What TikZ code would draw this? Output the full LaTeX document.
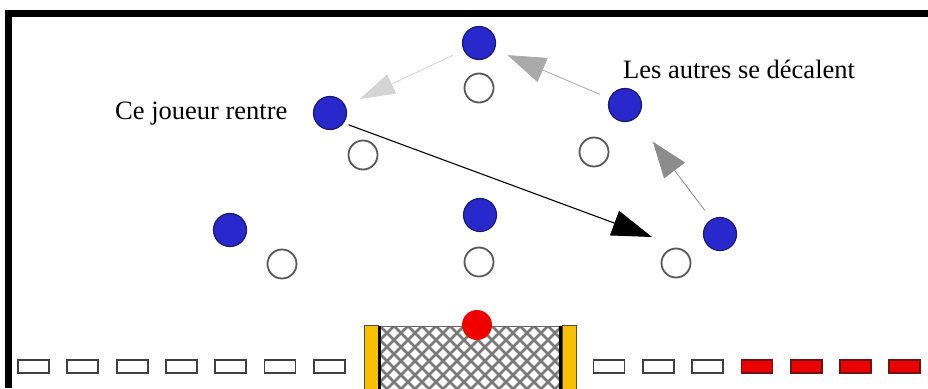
\documentclass[tikz,border=0pt]{standalone}
\usepackage{fontspec}
\setmainfont{Liberation Serif}
\usetikzlibrary{arrows.meta}
\definecolor{pblue}{RGB}{40,40,205}
\definecolor{pblueline}{RGB}{25,25,115}
\definecolor{postyellow}{RGB}{247,192,0}
\definecolor{ballred}{RGB}{240,0,0}
\definecolor{boxred}{RGB}{235,0,0}
\definecolor{boxredline}{RGB}{110,20,20}
\definecolor{grayA}{RGB}{212,212,212}
\definecolor{grayB}{RGB}{170,170,170}
\definecolor{grayC}{RGB}{140,140,140}
\begin{document}
\begin{tikzpicture}[x=1pt,y=-1pt,
  attacker/.style={circle,fill=pblue,draw=pblueline,line width=1.2pt,minimum size=33pt,inner sep=0pt},
  defender/.style={circle,fill=white,draw=black!65,line width=1.8pt,minimum size=29pt,inner sep=0pt},
  zonebox/.style={rectangle,fill=white,draw=black!75,line width=1.8pt,minimum width=31pt,minimum height=13pt,inner sep=0pt},
  redbox/.style={zonebox,fill=boxred,draw=boxredline},
  ballnode/.style={circle,fill=ballred,minimum size=30pt,inner sep=0pt},
  netline/.style={draw=black!52,line width=2.6pt},
  lbl/.style={font=\fontsize{26.5}{30}\selectfont,inner sep=0pt},
  moveA/.style={draw=grayA,line width=0.8pt,-{Triangle[length=35pt,width=21pt]}},
  moveB/.style={draw=grayB,line width=0.8pt,-{Triangle[length=38pt,width=26pt]}},
  moveC/.style={draw=grayC,line width=0.8pt,-{Triangle[length=36pt,width=26pt]}},
  entrymove/.style={draw=black,line width=1.1pt,-{Triangle[length=40pt,width=26pt]}}]
\useasboundingbox (0,0) rectangle (928,388);
\fill[white] (0,0) rectangle (928,388);
% frame
\fill[black] (5,10) rectangle (928,17);
\fill[black] (5,10) rectangle (12,388);
% net
\begin{scope}
  \clip (380,326) rectangle (560,390);
  \fill[white] (380,326) rectangle (560,390);
  \foreach \k in {-8,...,22} {
    \draw[netline] (380+\k*14,326) -- ++(80,80);
    \draw[netline] (380+\k*14,326) -- ++(-80,80);
  }
\end{scope}
\draw[black!60,line width=1pt] (376,326) -- (564,326);
\fill[postyellow,draw=black!70,line width=0.8pt] (364,325) rectangle (378,392);
\fill[postyellow,draw=black!70,line width=0.8pt] (562,325) rectangle (576,392);
\draw[black,line width=3pt] (379.5,326) -- (379.5,392);
\draw[black,line width=3pt] (560.5,326) -- (560.5,392);
\node[ballnode] (ball) at (477,325) {};
% zone boxes
\foreach \i in {1,...,7} {
  \node[zonebox] (L\i) at ({33.5+(\i-1)*49.3},366.5) {};
}
\foreach \i in {1,2,3} {
  \node[zonebox] (R\i) at ({609+(\i-1)*49.3},366.5) {};
}
\foreach \i in {4,...,7} {
  \node[redbox] (R\i) at ({609+(\i-1)*49.3},366.5) {};
}
% defenders
\node[defender] (W1) at (479,88) {};
\node[defender] (W2) at (363,155) {};
\node[defender] (W3) at (594,152) {};
\node[defender] (W4) at (479,262) {};
\node[defender] (W5) at (282,264) {};
\node[defender] (W6) at (676,263) {};
% attackers
\node[attacker] (B1) at (479,43) {};
\node[attacker] (B2) at (330,113) {};
\node[attacker] (B3) at (625,105) {};
\node[attacker] (B4) at (480,215) {};
\node[attacker] (B5) at (230,230) {};
\node[attacker] (B6) at (720,234) {};
% labels
\node[lbl,anchor=base west] (t1) at (115,119) {Ce joueur rentre};
\node[lbl,anchor=base west] (t2) at (623,78) {Les autres se décalent};
% movements
\coordinate (entry) at (652,237);
\draw[moveA,shorten <=12pt,shorten >=16pt] (B1) -- (B2);
\draw[moveB,shorten <=10pt,shorten >=14pt] (B3) -- (B1);
\draw[moveC,shorten <=11pt,shorten >=29pt] (B6.120) -- (B3);
\draw[entrymove,shorten <=5pt] (B2.-36) -- (entry);
\end{tikzpicture}
\end{document}
